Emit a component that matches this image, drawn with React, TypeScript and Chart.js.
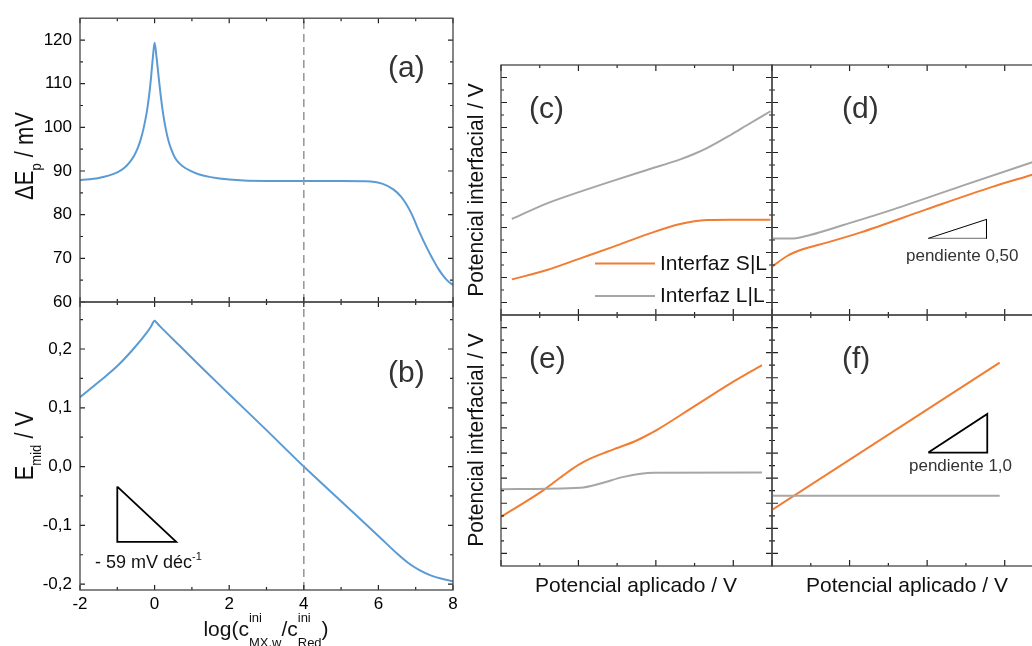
import React, { useEffect, useRef } from "react";
import { Chart, registerables } from "chart.js";

Chart.register(...registerables);

const CW = 1060;
const CH = 646;
const FONT = "'Liberation Sans', Arial, Helvetica, sans-serif";

const BLUE = "#5B9BD5";
const ORANGE = "#F07D32";
const GRAY = "#A6A6A6";
const DASH = "#9A9A9A";
const FRAME = "#454545";
const TEXT = "#111111";
const LABEL = "#333333";

// ---------- panel (a) ----------
const logRatioA = [-2, -1.5, -1, -0.8, -0.66, -0.55, -0.45, -0.37, -0.3, -0.21, -0.15, -0.1, -0.05, 0, 0.05, 0.1, 0.15, 0.22, 0.3, 0.37, 0.45, 0.55, 0.66, 0.8, 0.95, 1.2, 1.5, 2, 3, 4, 5, 5.8, 6.1, 6.4, 6.6, 6.75, 6.9, 7.1, 7.3, 7.46, 7.6, 7.73, 7.85, 8];
const deltaEp = [87.9, 88.4, 89.7, 90.8, 92.1, 93.5, 95.3, 97.3, 99.6, 103.5, 107.1, 111.0, 115.7, 119.4, 116.2, 112.2, 108.3, 103.6, 99.6, 97.0, 94.9, 93.0, 91.8, 90.8, 90.1, 89.2, 88.6, 88.05, 87.7, 87.7, 87.7, 87.6, 87.1, 85.8, 84.2, 82.4, 80.0, 76.0, 72.4, 69.8, 67.7, 66.1, 64.9, 63.9];

// ---------- panel (b) ----------
const logRatioB = [-2, -1.46, -1, -0.57, -0.21, -0.1, 0, 0.05, 0.14, 0.68, 1.22, 2, 3, 4, 5, 6, 6.5, 6.8, 7.1, 7.4, 7.7, 8];
const eMid = [0.118, 0.146, 0.171, 0.2, 0.228, 0.238, 0.248, 0.245, 0.239, 0.205, 0.171, 0.123, 0.062, 0.0, -0.059, -0.118, -0.148, -0.164, -0.176, -0.185, -0.191, -0.195];
const slopeTriX = [-1, -1, 0.58, -1];
const slopeTriY = [-0.034, -0.128, -0.128, -0.034];

const dashedX = [4, 4];
const dashedYA = [60, 125];
const dashedYB = [-0.21, 0.28];

// ---------- ticks (left panels) ----------
const xTicksLeft = [-2, 0, 2, 4, 6, 8];
const xMinorLeft = [-1, 1, 3, 5, 7];
const yTicksA = [60, 70, 80, 90, 100, 110, 120];
const yMinorA = [65, 75, 85, 95, 105, 115];
const yTicksB = [-0.2, -0.1, 0, 0.1, 0.2];
const yMinorB = [-0.15, -0.05, 0.05, 0.15, 0.25];

// ---------- panel (c) ----------
const cLLx = [0.28, 1.19, 2.05, 2.91, 3.77, 4.63, 5.0, 5.32, 5.93, 6.36, 6.96];
const cLLy = [7.68, 8.93, 9.87, 10.75, 11.6, 12.45, 12.9, 13.35, 14.4, 15.2, 16.3];
const cSLx = [0.28, 1.19, 2.05, 2.91, 3.77, 4.63, 5.32, 5.93, 6.96];
const cSLy = [2.85, 3.6, 4.53, 5.47, 6.45, 7.28, 7.6, 7.63, 7.63];

// ---------- panel (d) ----------
const dLLx = [0, 0.56, 0.98, 1.84, 3.13, 4.84, 6.69, 7];
const dLLy = [6.13, 6.13, 6.4, 7.2, 8.45, 10.27, 12.2, 12.52];
const dSLx = [0, 0.39, 0.81, 1.41, 2.27, 3.98, 5.7, 6.69, 7];
const dSLy = [3.87, 4.72, 5.28, 5.79, 6.59, 8.45, 10.27, 11.2, 11.5];
const dTriX = [4.03, 5.53, 5.53];
const dTriY = [6.13, 7.65, 6.13];
const dTriBaseX = [4.03, 5.53];
const dTriBaseY = [6.13, 6.13];

// ---------- panel (e) ----------
const eSLx = [0, 1.1, 1.6, 2.0, 2.3, 2.74, 3.0, 3.43, 3.7, 4.03, 4.98, 5.93, 6.74];
const eSLy = [3.92, 6.05, 7.2, 8.05, 8.55, 9.1, 9.4, 9.9, 10.3, 10.85, 12.7, 14.55, 16.0];
const eLLx = [0, 2.05, 2.57, 3.17, 3.94, 6.74];
const eLLy = [6.12, 6.23, 6.57, 7.1, 7.43, 7.45];

// ---------- panel (f) ----------
const fSLx = [0, 5.87];
const fSLy = [4.46, 16.2];
const fLLx = [0, 5.87];
const fLLy = [5.6, 5.6];
const fTriX = [4.03, 5.55, 5.55, 4.03];
const fTriY = [9.04, 9.04, 12.12, 9.04];

// ---------- ticks (right panels) ----------
const xMajorR = [0, 2, 4, 6];
const xMinorR = [1, 3, 5];
const yMajorR = [1, 3, 5, 7, 9, 11, 13, 15, 17, 19];
const yMinorR = [2, 4, 6, 8, 10, 12, 14, 16, 18];

type Area = { l: number; t: number; r: number; b: number };
type Run = { t?: string; sup?: string; sub?: string; size: number; dy?: number; supDy?: number; subDy?: number };
type Spec = {
  area: Area;
  x: [number, number];
  y: [number, number];
  xMajor: number[];
  xMinor: number[];
  yMajor: number[];
  yMinor: number[];
  xFmt?: (v: number) => string;
  yFmt?: (v: number) => string;
  majorLen: number;
  minorLen: number;
  tickColor: string;
  datasets: any[];
  decorate?: (ctx: CanvasRenderingContext2D, chart: Chart) => void;
};

const pts = (xs: number[], ys: number[]) => xs.map((x, i) => ({ x, y: ys[i] }));

function curve(xs: number[], ys: number[], color: string, width = 2, smooth = true, dash: number[] = []) {
  return {
    data: pts(xs, ys),
    borderColor: color,
    backgroundColor: color,
    borderWidth: width,
    borderDash: dash,
    pointRadius: 0,
    fill: false,
    tension: 0,
    cubicInterpolationMode: smooth ? "monotone" : "default",
    borderJoinStyle: "miter",
  };
}

function drawRich(ctx: CanvasRenderingContext2D, runs: Run[], x: number, y: number, align: "left" | "center", color: string) {
  ctx.textBaseline = "alphabetic";
  ctx.textAlign = "left";
  ctx.fillStyle = color;
  const widths = runs.map((r) => {
    ctx.font = `${r.size}px ${FONT}`;
    if (r.t !== undefined) return ctx.measureText(r.t).width;
    return Math.max(ctx.measureText(r.sup || "").width, ctx.measureText(r.sub || "").width);
  });
  const total = widths.reduce((a, b) => a + b, 0);
  let cx = align === "center" ? x - total / 2 : x;
  runs.forEach((r, i) => {
    ctx.font = `${r.size}px ${FONT}`;
    if (r.t !== undefined) {
      ctx.fillText(r.t, cx, y + (r.dy || 0));
    } else {
      if (r.sup) ctx.fillText(r.sup, cx, y + (r.supDy || 0));
      if (r.sub) ctx.fillText(r.sub, cx, y + (r.subDy || 0));
    }
    cx += widths[i];
  });
}

function drawRotated(ctx: CanvasRenderingContext2D, runs: Run[], x: number, y: number, color: string, stretch = 1) {
  ctx.save();
  ctx.translate(x, y);
  ctx.rotate(-Math.PI / 2);
  ctx.scale(1, stretch);
  drawRich(ctx, runs, 0, 0, "center", color);
  ctx.restore();
}

function text(ctx: CanvasRenderingContext2D, s: string, x: number, y: number, size: number, color: string, align: CanvasTextAlign = "left") {
  ctx.font = `${size}px ${FONT}`;
  ctx.fillStyle = color;
  ctx.textAlign = align;
  ctx.textBaseline = "alphabetic";
  ctx.fillText(s, x, y);
}

function makeChart(canvas: HTMLCanvasElement, s: Spec): Chart {
  const yW = s.yFmt ? 60 : 0;
  const xH = s.xFmt ? 30 : 0;
  const framePlugin = {
    id: "frameTicks",
    afterDraw(chart: any) {
      const ctx: CanvasRenderingContext2D = chart.ctx;
      const { left, right, top, bottom } = chart.chartArea;
      const xs = chart.scales.x;
      const ys = chart.scales.y;
      ctx.save();
      ctx.strokeStyle = s.tickColor;
      ctx.lineWidth = 1.2;
      ctx.beginPath();
      const xGroups: [number[], number][] = [[s.xMajor, s.majorLen], [s.xMinor, s.minorLen]];
      for (const [vals, len] of xGroups) {
        for (const v of vals) {
          const p = xs.getPixelForValue(v);
          ctx.moveTo(p, bottom);
          ctx.lineTo(p, bottom - len);
          ctx.moveTo(p, top);
          ctx.lineTo(p, top + len);
        }
      }
      const yGroups: [number[], number][] = [[s.yMajor, s.majorLen], [s.yMinor, s.minorLen]];
      for (const [vals, len] of yGroups) {
        for (const v of vals) {
          const p = ys.getPixelForValue(v);
          ctx.moveTo(left, p);
          ctx.lineTo(left + len, p);
          ctx.moveTo(right, p);
          ctx.lineTo(right - len, p);
        }
      }
      ctx.stroke();
      ctx.strokeStyle = FRAME;
      ctx.lineWidth = 1.3;
      ctx.strokeRect(left, top, right - left, bottom - top);
      ctx.restore();
      if (s.decorate) {
        ctx.save();
        s.decorate(ctx, chart);
        ctx.restore();
      }
    },
  };
  return new Chart(canvas, {
    type: "line",
    data: { datasets: s.datasets },
    options: {
      responsive: false,
      maintainAspectRatio: false,
      animation: false,
      devicePixelRatio: 1,
      events: [],
      layout: {
        padding: { left: s.area.l - yW, top: s.area.t, right: CW - s.area.r, bottom: CH - s.area.b - xH },
      },
      plugins: { legend: { display: false }, tooltip: { enabled: false }, title: { display: false } },
      scales: {
        x: {
          type: "linear",
          position: "bottom",
          min: s.x[0],
          max: s.x[1],
          grid: { display: false, drawTicks: false },
          border: { display: false },
          ticks: {
            display: !!s.xFmt,
            autoSkip: false,
            maxRotation: 0,
            includeBounds: false,
            padding: 4,
            color: "#000",
            font: { family: FONT, size: 17 },
            callback: (v: any) => (s.xFmt ? s.xFmt(Number(v)) : ""),
          },
          afterBuildTicks: (axis: any) => {
            axis.ticks = s.xMajor.map((v) => ({ value: v }));
          },
          afterFit: (axis: any) => {
            axis.height = xH;
          },
        },
        y: {
          type: "linear",
          position: "left",
          min: s.y[0],
          max: s.y[1],
          grid: { display: false, drawTicks: false },
          border: { display: false },
          ticks: {
            display: !!s.yFmt,
            autoSkip: false,
            includeBounds: false,
            padding: 8,
            color: "#000",
            font: { family: FONT, size: 17 },
            callback: (v: any) => (s.yFmt ? s.yFmt(Number(v)) : ""),
          },
          afterBuildTicks: (axis: any) => {
            axis.ticks = s.yMajor.map((v) => ({ value: v }));
          },
          afterFit: (axis: any) => {
            axis.width = yW;
          },
        },
      },
    } as any,
    plugins: [framePlugin],
  } as any);
}

const fmtComma = (v: number) => (Math.abs(v) < 1e-9 ? "0,0" : v.toFixed(1).replace(".", ","));

function buildSpecs(): Spec[] {
  const LEFT = { l: 80, r: 453 };
  const RC = { l: 501, r: 772 };
  const RD = { l: 772, r: 1043.5 };
  const TOP_R = 65, MID_R = 315, BOT_R = 566;

  const yTitleRight = (ctx: CanvasRenderingContext2D, cy: number) =>
    drawRotated(ctx, [{ t: "Potencial interfacial / V", size: 21 }], 483, cy, TEXT, 1.05);
  const xTitleRight = (ctx: CanvasRenderingContext2D, cx: number) =>
    text(ctx, "Potencial aplicado / V", cx, 592, 21, TEXT, "center");

  const a: Spec = {
    area: { ...LEFT, t: 15, b: 302 },
    x: [-2, 8],
    y: [60, 125],
    xMajor: xTicksLeft,
    xMinor: xMinorLeft,
    yMajor: yTicksA,
    yMinor: yMinorA,
    yFmt: (v) => String(v),
    majorLen: 5,
    minorLen: 3,
    tickColor: "#222",
    datasets: [
      curve(dashedX, dashedYA, DASH, 1.6, false, [8, 5]),
      curve(logRatioA, deltaEp, BLUE, 2, true),
    ],
    decorate: (ctx) => {
      text(ctx, "(a)", 388, 77, 30, LABEL);
      drawRotated(ctx, [{ t: "ΔE", size: 22 }, { t: "p", size: 13, dy: 7 }, { t: " / mV", size: 22 }], 33, 156, TEXT, 1.15);
    },
  };

  const b: Spec = {
    area: { ...LEFT, t: 302, b: 590 },
    x: [-2, 8],
    y: [-0.21, 0.28],
    xMajor: xTicksLeft,
    xMinor: xMinorLeft,
    yMajor: yTicksB,
    yMinor: yMinorB,
    xFmt: (v) => String(v),
    yFmt: fmtComma,
    majorLen: 5,
    minorLen: 3,
    tickColor: "#222",
    datasets: [
      curve(dashedX, dashedYB, DASH, 1.6, false, [8, 5]),
      curve(logRatioB, eMid, BLUE, 2, true),
      curve(slopeTriX, slopeTriY, "#000", 1.8, false),
    ],
    decorate: (ctx) => {
      text(ctx, "(b)", 388, 382, 30, LABEL);
      drawRotated(ctx, [{ t: "E", size: 22 }, { t: "mid", size: 13, dy: 7 }, { t: " / V", size: 22 }], 33, 446, TEXT, 1.15);
      drawRich(ctx, [{ t: "- 59 mV déc", size: 18 }, { t: "-1", size: 11, dy: -8 }], 95, 568, "left", TEXT);
      drawRich(
        ctx,
        [
          { t: "log(c", size: 21 },
          { sup: "ini", sub: "MX,w", size: 13, supDy: -14, subDy: 11 },
          { t: "/c", size: 21 },
          { sup: "ini", sub: "Red", size: 13, supDy: -14, subDy: 11 },
          { t: ")", size: 21 },
        ],
        266,
        636,
        "center",
        TEXT
      );
    },
  };

  const c: Spec = {
    area: { ...RC, t: TOP_R, b: MID_R },
    x: [0, 7],
    y: [0, 20],
    xMajor: xMajorR,
    xMinor: xMinorR,
    yMajor: yMajorR,
    yMinor: yMinorR,
    majorLen: 6,
    minorLen: 3,
    tickColor: "#222",
    datasets: [curve(cLLx, cLLy, GRAY, 2, true), curve(cSLx, cSLy, ORANGE, 2, true)],
    decorate: (ctx) => {
      text(ctx, "(c)", 529, 118, 30, LABEL);
      ctx.lineWidth = 2;
      ctx.strokeStyle = ORANGE;
      ctx.beginPath();
      ctx.moveTo(595, 263.5);
      ctx.lineTo(655, 263.5);
      ctx.stroke();
      ctx.strokeStyle = GRAY;
      ctx.beginPath();
      ctx.moveTo(595, 296);
      ctx.lineTo(655, 296);
      ctx.stroke();
      text(ctx, "Interfaz S|L", 660, 270, 21, TEXT);
      text(ctx, "Interfaz L|L", 660, 302, 21, TEXT);
      yTitleRight(ctx, 190);
    },
  };

  const d: Spec = {
    area: { ...RD, t: TOP_R, b: MID_R },
    x: [0, 7],
    y: [0, 20],
    xMajor: xMajorR,
    xMinor: xMinorR,
    yMajor: yMajorR,
    yMinor: yMinorR,
    majorLen: 6,
    minorLen: 3,
    tickColor: "#222",
    datasets: [
      curve(dLLx, dLLy, GRAY, 2, true),
      curve(dSLx, dSLy, ORANGE, 2, true),
      curve(dTriX, dTriY, "#000", 1, false),
      curve(dTriBaseX, dTriBaseY, "#888", 1.4, false),
    ],
    decorate: (ctx) => {
      text(ctx, "(d)", 842, 118, 30, LABEL);
      text(ctx, "pendiente 0,50", 906, 261, 17, LABEL);
    },
  };

  const e: Spec = {
    area: { ...RC, t: MID_R, b: BOT_R },
    x: [0, 7],
    y: [0, 20],
    xMajor: xMajorR,
    xMinor: xMinorR,
    yMajor: yMajorR,
    yMinor: yMinorR,
    majorLen: 6,
    minorLen: 3,
    tickColor: "#222",
    datasets: [curve(eLLx, eLLy, GRAY, 2, true), curve(eSLx, eSLy, ORANGE, 2, true)],
    decorate: (ctx) => {
      text(ctx, "(e)", 529, 368, 30, LABEL);
      yTitleRight(ctx, 440);
      xTitleRight(ctx, 636);
    },
  };

  const f: Spec = {
    area: { ...RD, t: MID_R, b: BOT_R },
    x: [0, 7],
    y: [0, 20],
    xMajor: xMajorR,
    xMinor: xMinorR,
    yMajor: yMajorR,
    yMinor: yMinorR,
    majorLen: 6,
    minorLen: 3,
    tickColor: "#222",
    datasets: [
      curve(fLLx, fLLy, GRAY, 2, false),
      curve(fSLx, fSLy, ORANGE, 2, false),
      curve(fTriX, fTriY, "#000", 1.8, false),
    ],
    decorate: (ctx) => {
      text(ctx, "(f)", 842, 368, 30, LABEL);
      text(ctx, "pendiente 1,0", 909, 471, 17, LABEL);
      xTitleRight(ctx, 907);
    },
  };

  return [a, b, c, d, e, f];
}

export default function App() {
  const refs = useRef<(HTMLCanvasElement | null)[]>([]);
  useEffect(() => {
    const specs = buildSpecs();
    const charts = specs.map((s, i) => makeChart(refs.current[i] as HTMLCanvasElement, s));
    return () => {
      charts.forEach((c) => c.destroy());
    };
  }, []);
  return (
    <div
      style={{
        position: "fixed",
        left: 0,
        top: 0,
        width: 1032,
        height: 646,
        overflow: "hidden",
        background: "#fff",
      }}
    >
      {[0, 1, 2, 3, 4, 5].map((i) => (
        <canvas
          key={i}
          ref={(el) => {
            refs.current[i] = el;
          }}
          width={CW}
          height={CH}
          style={{ position: "absolute", left: 0, top: 0, width: CW, height: CH }}
        />
      ))}
    </div>
  );
}
